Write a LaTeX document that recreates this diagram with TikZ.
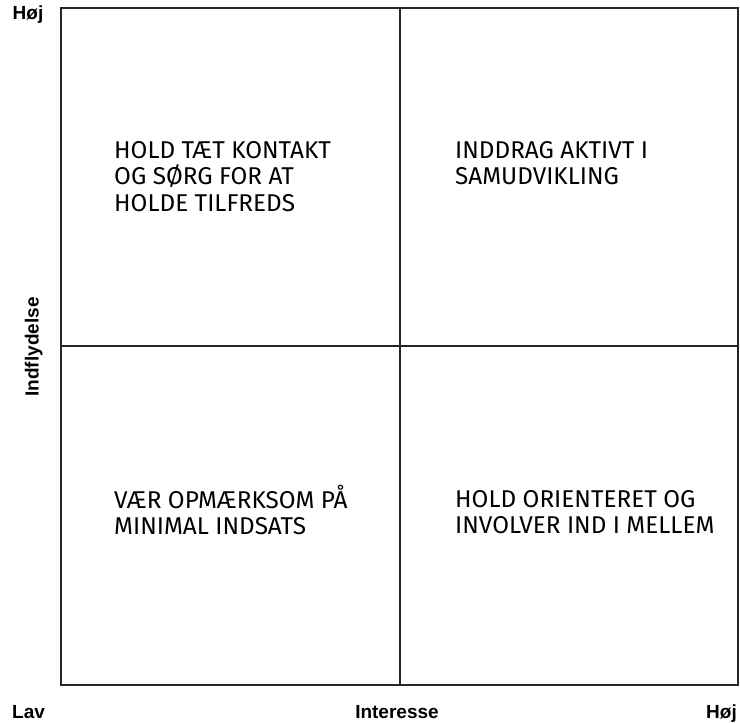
\documentclass[tikz,border=0pt]{standalone}
\usepackage{fontspec}
\setmainfont{Liberation Sans}
\newfontfamily\quadfont{Fira Sans}
\begin{document}
\begin{tikzpicture}[x=1pt,y=-1pt,
  gridline/.style={draw=black!85,line width=1.8pt},
  axislabel/.style={font=\fontsize{19}{21}\selectfont\bfseries,inner sep=0pt},
  quadtext/.style={font=\quadfont\fontsize{24.3}{26.5}\selectfont,align=left,anchor=base west,inner sep=0pt}]
  \useasboundingbox (0,0) rectangle (740,723);
  % frame and the two dividing lines
  \coordinate (tl) at (61,8);
  \coordinate (br) at (738,685);
  \coordinate (mt) at (400,8);
  \coordinate (mb) at (400,685);
  \coordinate (ml) at (61,346);
  \coordinate (mr) at (738,346);
  \draw[gridline] (tl) rectangle (br);
  \draw[gridline] (mt) -- (mb);
  \draw[gridline] (ml) -- (mr);
  % axis labels
  \node[axislabel,anchor=base] (hojy) at (28,19.5) {Høj};
  \node[axislabel,anchor=base west] (lav) at (12,718) {Lav};
  \node[axislabel,anchor=base] (interesse) at (397,718) {Interesse};
  \node[axislabel,anchor=base east] (hojx) at (737,718) {Høj};
  \node[axislabel,rotate=90,anchor=base] (indfl) at (38.5,347) {Indflydelse};
  % quadrant texts (anchored at the baseline of their last line)
  \node[quadtext] (q1) at (114,211) {HOLD TÆT KONTAKT\\OG SØRG FOR AT\\HOLDE TILFREDS};
  \node[quadtext] (q2) at (455,184.5) {INDDRAG AKTIVT I\\SAMUDVIKLING};
  \node[quadtext] (q3) at (114,534.5) {VÆR OPMÆRKSOM PÅ\\MINIMAL INDSATS};
  \node[quadtext] (q4) at (455,533.5) {HOLD ORIENTERET OG\\INVOLVER IND I MELLEM};
\end{tikzpicture}
\end{document}
